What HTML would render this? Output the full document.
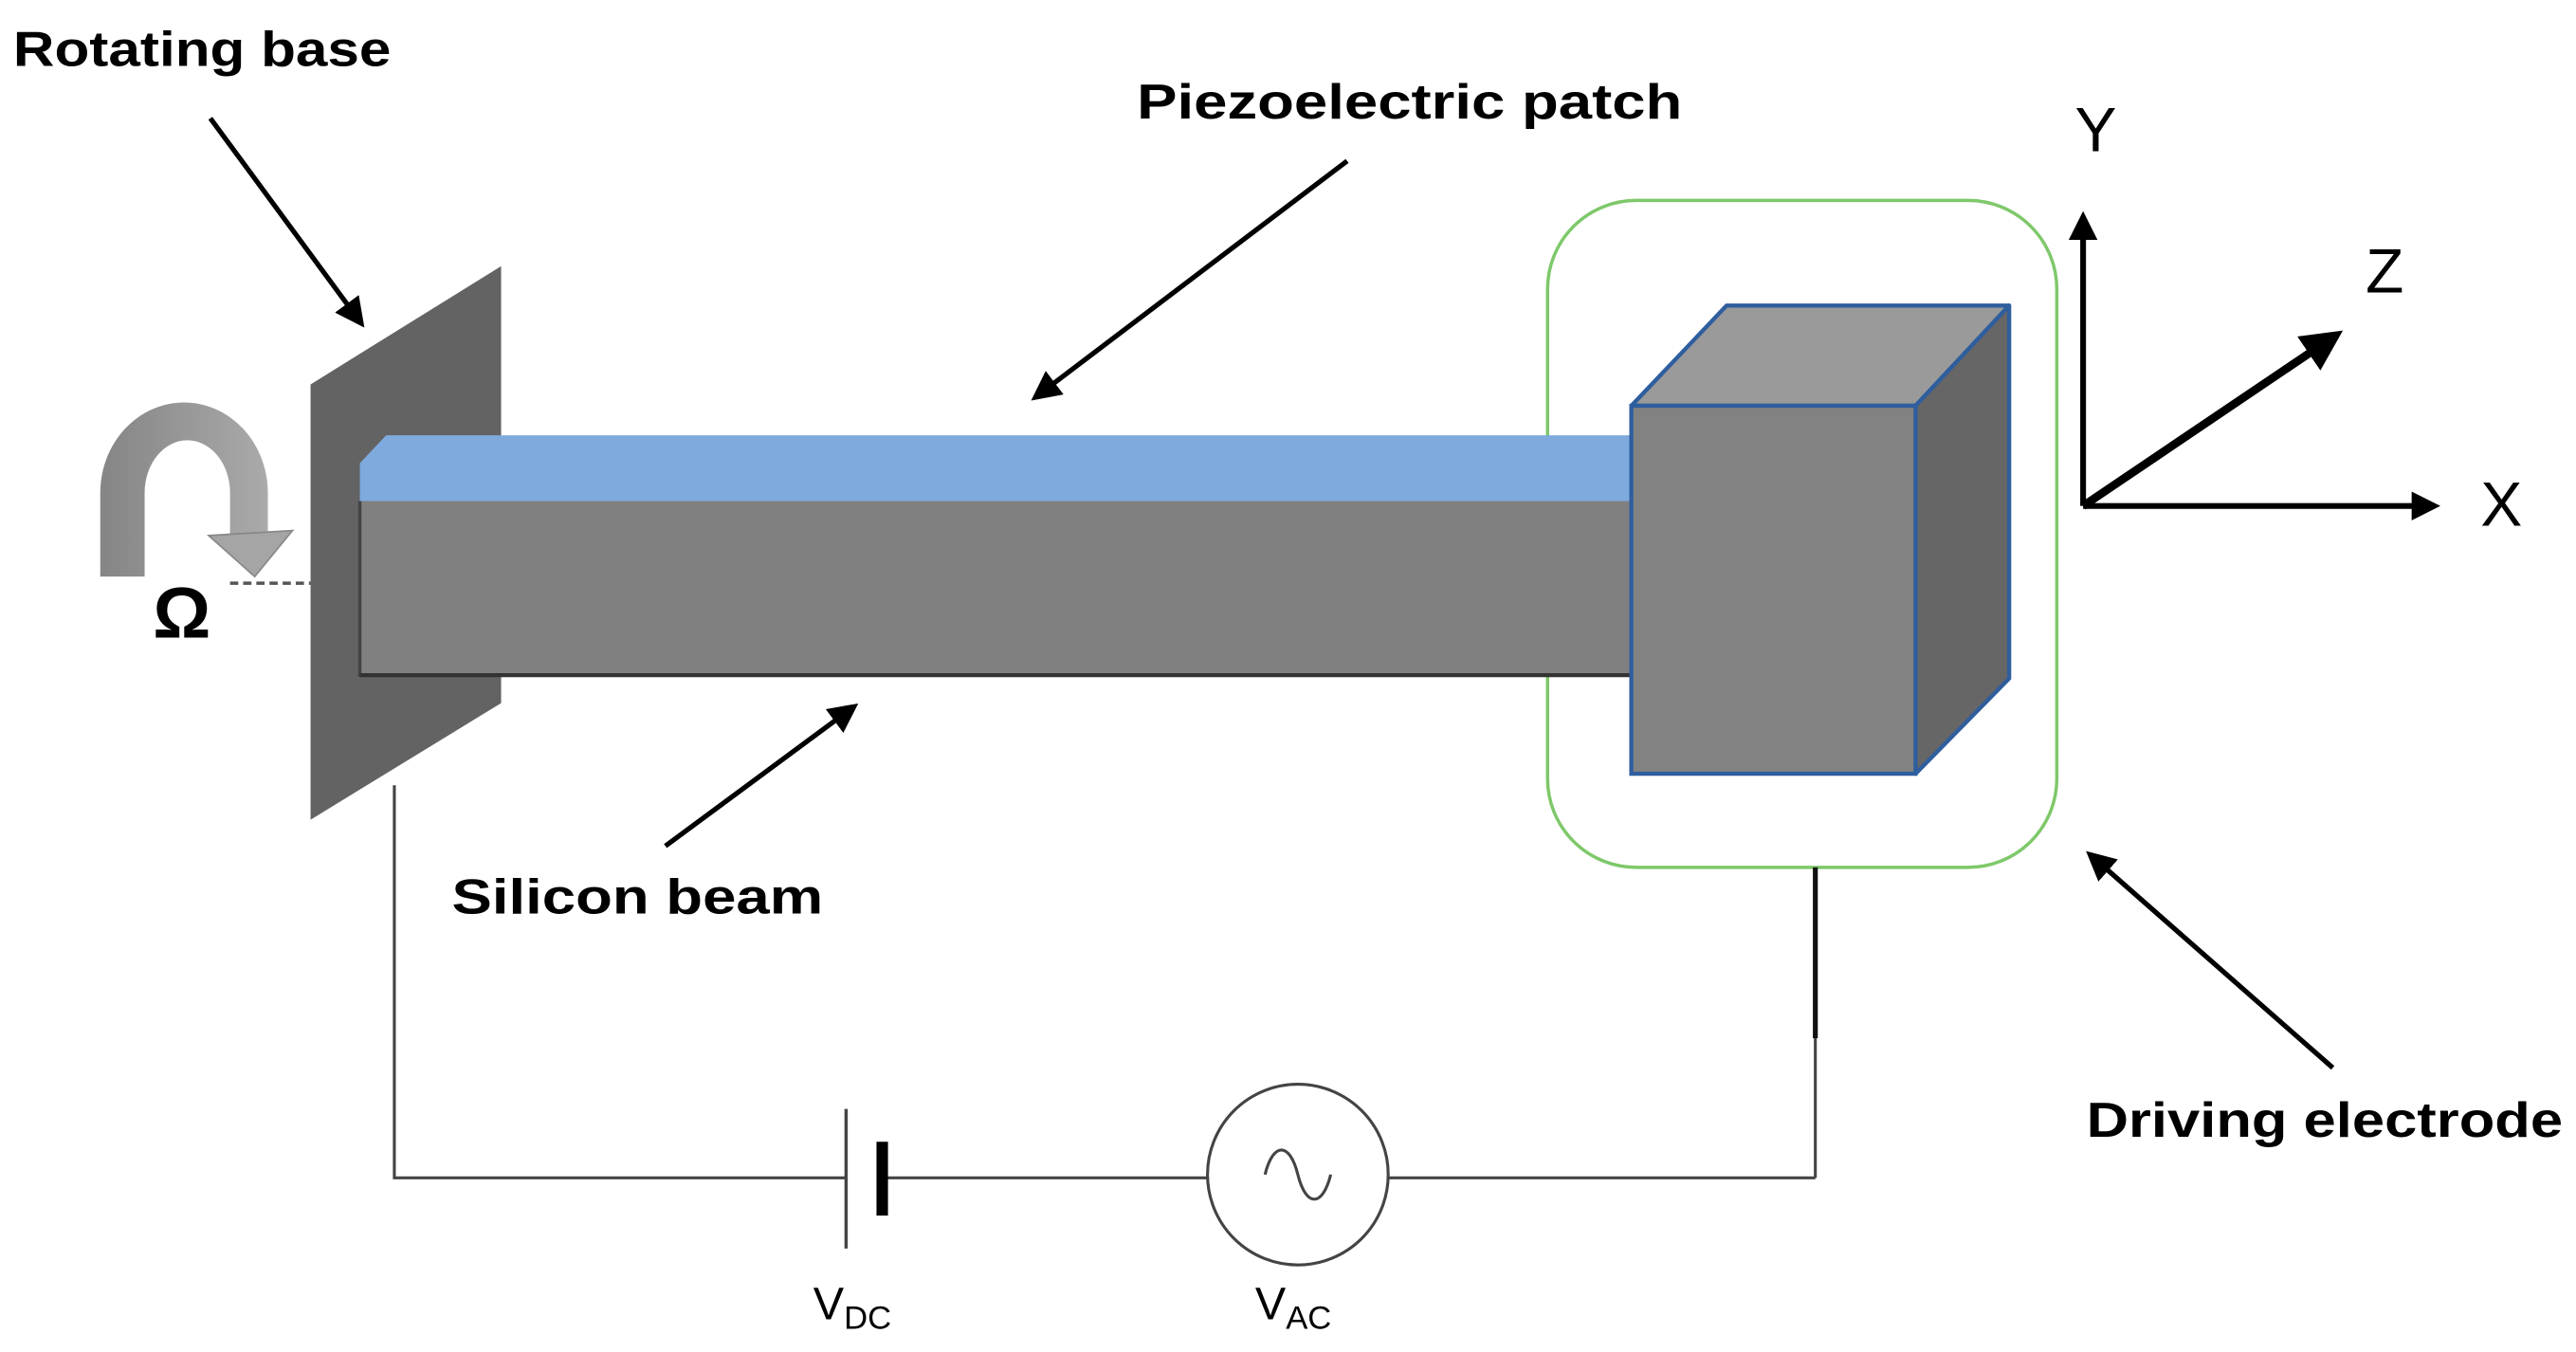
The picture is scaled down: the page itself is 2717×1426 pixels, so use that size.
<!DOCTYPE html>
<html><head><meta charset="utf-8"><style>
html,body{margin:0;padding:0;background:#fff;}
svg{display:block;}
text{font-family:"Liberation Sans",sans-serif;}
</style></head><body>
<svg width="2717" height="1426" viewBox="0 0 1568 823" xmlns="http://www.w3.org/2000/svg">
<defs>
<marker id="ah" markerWidth="6" markerHeight="6" refX="5" refY="3" orient="auto" markerUnits="strokeWidth">
<path d="M0,0 L6,3 L0,6 z" fill="#000"/>
</marker>
<marker id="ah2" markerWidth="5" markerHeight="5" refX="4" refY="2.5" orient="auto" markerUnits="strokeWidth">
<path d="M0,0 L5,2.5 L0,5 z" fill="#000"/>
</marker>
<linearGradient id="rg" x1="0" x2="1" y1="0" y2="0">
<stop offset="0" stop-color="#858585"/><stop offset="1" stop-color="#aaaaaa"/>
</linearGradient>
</defs>
<rect width="1568" height="823" fill="#fff"/>

<!-- labels -->
<text x="8" y="40" font-size="30" font-weight="bold" textLength="230" lengthAdjust="spacingAndGlyphs">Rotating base</text>
<line x1="128" y1="72" x2="220" y2="197" stroke="#000" stroke-width="3" marker-end="url(#ah)"/>
<text x="692" y="72" font-size="30" font-weight="bold" textLength="332" lengthAdjust="spacingAndGlyphs">Piezoelectric patch</text>
<line x1="820" y1="98" x2="630" y2="242" stroke="#000" stroke-width="3" marker-end="url(#ah)"/>
<text x="275" y="556" font-size="30" font-weight="bold" textLength="226" lengthAdjust="spacingAndGlyphs">Silicon beam</text>
<line x1="405" y1="515" x2="520" y2="430" stroke="#000" stroke-width="3" marker-end="url(#ah)"/>
<text x="1270" y="692" font-size="30" font-weight="bold" textLength="290" lengthAdjust="spacingAndGlyphs">Driving electrode</text>
<line x1="1420" y1="650" x2="1272" y2="520" stroke="#000" stroke-width="3" marker-end="url(#ah)"/>

<!-- rotation arrow -->
<path d="M61,351 L61,300 A51,55 0 0 1 163,300 L163,326 L140,326 L140,300 A26,32 0 0 0 88,300 L88,351 Z" fill="url(#rg)"/>
<polygon points="127,326 178,323 155,351" fill="#a5a5a5" stroke="#888" stroke-width="1"/>
<text x="93" y="388" font-family="Liberation Serif,serif" font-size="44" font-weight="bold">Ω</text>
<line x1="140" y1="355" x2="189" y2="355" stroke="#555" stroke-width="2" stroke-dasharray="5,3"/>

<!-- base plate -->
<polygon points="189,234 305,162 305,428 189,499" fill="#636363"/>

<!-- green box (behind beam) -->
<rect x="942" y="122" width="310" height="406" rx="54" ry="54" fill="none" stroke="#7ec86a" stroke-width="2"/>

<!-- beam -->
<polygon points="219,282 235,265 995,265 995,305 219,305" fill="#7eaadd"/>
<rect x="219" y="305" width="776" height="107" fill="#808080"/>
<line x1="219" y1="305" x2="219" y2="412" stroke="#444" stroke-width="2"/>
<line x1="219" y1="411" x2="995" y2="411" stroke="#333" stroke-width="2.5"/>

<!-- cube -->
<polygon points="993,247 1051,186 1223,186 1166,247" fill="#9a9a9a" stroke="#2f5e9e" stroke-width="2.5" stroke-linejoin="round"/>
<polygon points="1166,247 1223,186 1223,413 1166,471" fill="#666" stroke="#2f5e9e" stroke-width="2.5" stroke-linejoin="round"/>
<rect x="993" y="247" width="173" height="224" fill="#828282" stroke="#2f5e9e" stroke-width="2.5"/>

<!-- axes -->
<line x1="1268" y1="308" x2="1268" y2="132" stroke="#000" stroke-width="3.5" marker-end="url(#ah2)"/>
<line x1="1268" y1="308" x2="1482" y2="308" stroke="#000" stroke-width="3.5" marker-end="url(#ah2)"/>
<line x1="1268" y1="308" x2="1422" y2="204" stroke="#000" stroke-width="5" marker-end="url(#ah2)"/>
<text x="1263" y="92" font-size="38">Y</text>
<text x="1440" y="178" font-size="38">Z</text>
<text x="1510" y="320" font-size="38">X</text>

<!-- circuit -->
<g stroke="#444" stroke-width="1.8" fill="none">
<polyline points="240,478 240,717 515,717"/>
<line x1="540" y1="717" x2="735" y2="717"/>
<line x1="845" y1="717" x2="1105" y2="717"/>
<line x1="1105" y1="717" x2="1105" y2="630"/>
<circle cx="790" cy="715" r="55"/>
<path d="M770,715 C775,695 785,695 790,715 C795,735 805,735 810,715"/>
</g>
<line x1="1105" y1="528" x2="1105" y2="632" stroke="#111" stroke-width="3"/>
<line x1="515" y1="675" x2="515" y2="760" stroke="#444" stroke-width="2"/>
<line x1="537" y1="695" x2="537" y2="740" stroke="#000" stroke-width="7"/>
<text x="495" y="803" font-size="28">V<tspan font-size="20" dy="6">DC</tspan></text>
<text x="764" y="803" font-size="28">V<tspan font-size="20" dy="6">AC</tspan></text>
</svg>
</body></html>
